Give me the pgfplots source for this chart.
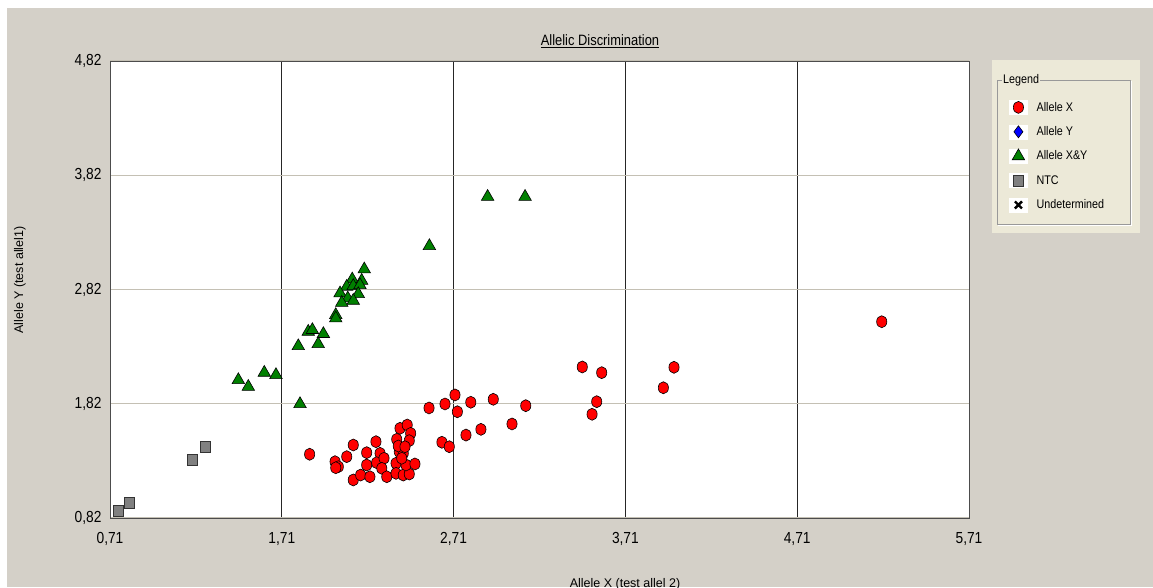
\documentclass[border=0pt]{standalone}
\usepackage{fontspec}
\setmainfont{Liberation Sans}
\newfontfamily\narrowfont{Liberation Sans}[FakeStretch=0.86]
\usepackage{pgfplots}
\pgfplotsset{compat=1.18}
\definecolor{bgpanel}{HTML}{D4D0C8}
\definecolor{legpanel}{HTML}{ECE9D8}
\definecolor{hgrid}{HTML}{C4C0B4}
\definecolor{ntcgray}{HTML}{808080}
\definecolor{xygreen}{HTML}{008000}

\pgfplotsset{
  legimg/.style={legend image code/.code={\fill[white] (-9pt,-7pt) rectangle (9pt,7pt); \draw[##1] plot coordinates {(0pt,0pt)};}},
}

\pgfplotstableread{
x y
1.872 1.378
2.020 1.313
2.039 1.269
2.024 1.260
2.088 1.357
2.126 1.459
2.126 1.153
2.169 1.196
2.204 1.392
2.204 1.284
2.223 1.181
2.258 1.488
2.282 1.386
2.262 1.304
2.305 1.343
2.292 1.255
2.321 1.181
2.375 1.299
2.375 1.211
2.417 1.196
2.452 1.205
2.433 1.284
2.485 1.293
2.394 1.400
2.417 1.386
2.379 1.509
2.398 1.605
2.440 1.634
2.460 1.561
2.452 1.497
2.388 1.450
2.427 1.444
2.408 1.343
2.567 1.783
2.660 1.818
2.718 1.897
2.732 1.750
2.810 1.833
2.941 1.859
3.130 1.803
2.782 1.546
2.869 1.596
3.050 1.643
2.642 1.483
2.685 1.444
3.459 2.142
3.572 2.092
3.993 2.139
3.931 1.960
3.543 1.838
3.516 1.728
5.202 2.538
}\alleleX

\pgfplotstableread{
x y
2.190 2.997
2.120 2.909
2.175 2.897
2.088 2.845
2.126 2.851
2.165 2.859
2.049 2.787
2.155 2.781
2.094 2.743
2.126 2.722
2.059 2.704
2.024 2.597
2.024 2.568
1.864 2.451
1.888 2.466
1.952 2.431
1.922 2.343
1.806 2.325
1.608 2.092
1.676 2.072
1.457 2.028
1.515 1.969
1.816 1.818
2.569 3.201
2.908 3.632
3.126 3.632
}\alleleXY

\pgfplotstableread{
x y
0.758 0.884
0.825 0.954
1.189 1.325
1.267 1.439
}\ntc

\begin{document}
\begin{tikzpicture}
\useasboundingbox (0pt,0pt) rectangle (1153pt,587pt);
\clip (0pt,0pt) rectangle (1153pt,587pt);
\fill[bgpanel] (7pt,0pt) rectangle (1153pt,579pt);
% legend panel
\fill[legpanel] (992pt,354pt) rectangle (1140pt,527pt);
\draw[black!40, line width=0.7pt] (997pt,363pt) rectangle (1130pt,507pt);
\draw[white, line width=0.7pt] (998pt,362pt) -- (1131pt,362pt) -- (1131pt,506pt);
\node[fill=legpanel, inner sep=1pt, anchor=west, font=\narrowfont\fontsize{12.5}{14}\selectfont] at (1002pt,507pt) {Legend};
% title and axis labels
\node[font=\narrowfont\fontsize{15}{17}\selectfont] at (600pt,546pt) {\underline{Allelic Discrimination}};
\node[rotate=90, font=\fontsize{12.5}{14}\selectfont] at (20pt,307pt) {Allele Y (test allel1)};
\node[font=\fontsize{12.5}{14}\selectfont] at (625pt,3pt) {Allele X (test allel 2)};

\begin{axis}[
  at={(110pt,69pt)}, anchor=south west,
  scale only axis, width=859pt, height=457pt,
  xmin=0.71, xmax=5.71, ymin=0.82, ymax=4.82,
  xtick={0.71,1.71,2.71,3.71,4.71,5.71},
  xticklabels={{0,71},{1,71},{2,71},{3,71},{4,71},{5,71}},
  ytick={0.82,1.82,2.82,3.82,4.82},
  yticklabels={{0,82},{1,82},{2,82},{3,82},{4,82}},
  axis background/.style={fill=white},
  grid=major,
  x grid style={black!85, line width=1pt},
  y grid style={hgrid, line width=1.4pt},
  major tick length=0pt,
  axis line style={black!70, line width=1pt},
  tick label style={font=\narrowfont\fontsize{16}{18}\selectfont},
  xticklabel style={yshift=-11pt},
  yticklabel style={xshift=-5pt},
  clip=false,
  legend style={at={(1.0466,0.9147)}, anchor=north west, draw=none, fill=none,
    inner sep=0pt, row sep=10pt, column sep=9pt,
    font=\narrowfont\fontsize{12.5}{14}\selectfont, nodes={inner sep=0pt}},
  legend cell align=left,
]
\addplot[only marks, mark=*, mark size=6pt,
  mark options={xscale=0.85, fill=red, draw=black, line width=0.6pt}, legimg]
  table[x=x,y=y] {\alleleX};
\addlegendentry{Allele X}
\addlegendimage{only marks, mark=diamond*, mark size=6pt,
  mark options={fill=blue, draw=black, line width=0.6pt}, legimg}
\addlegendentry{Allele Y}
\addplot[only marks, mark=triangle*, mark size=7.2pt,
  mark options={fill=xygreen, draw=black, line width=0.6pt}, legimg]
  table[x=x,y=y] {\alleleXY};
\addlegendentry{Allele X\&Y}
\addplot[only marks, mark=square*, mark size=5pt,
  mark options={yscale=1.1, fill=ntcgray, draw=black!80, line width=0.8pt}, legimg]
  table[x=x,y=y] {\ntc};
\addlegendentry{NTC}
\addlegendimage{only marks, mark=x, mark size=5pt,
  mark options={draw=black, line width=2.4pt}, legimg}
\addlegendentry{Undetermined}
\end{axis}
\end{tikzpicture}
\end{document}
